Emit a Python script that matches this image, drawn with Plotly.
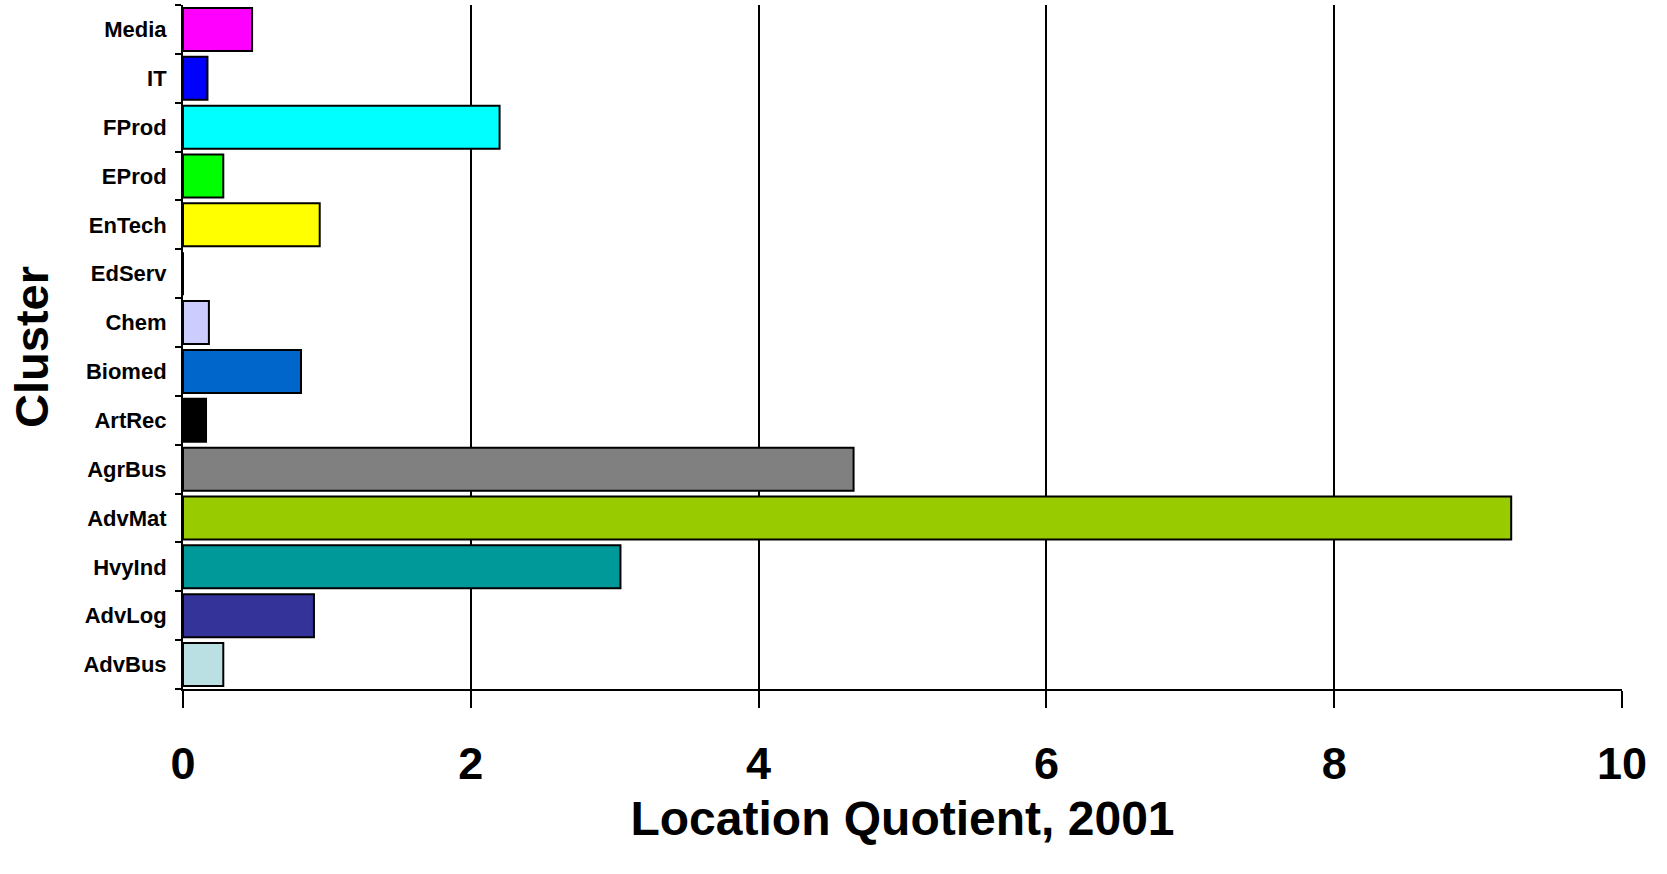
import plotly.graph_objects as go

clusters = ["AdvBus", "AdvLog", "HvyInd", "AdvMat", "AgrBus", "ArtRec", "Biomed",
            "Chem", "EdServ", "EnTech", "EProd", "FProd", "IT", "Media"]
lq_2001 = [0.28, 0.91, 3.04, 9.23, 4.66, 0.16, 0.82,
           0.18, 0.0, 0.95, 0.28, 2.2, 0.17, 0.48]
colors = ["#BBE0E3", "#333399", "#009999", "#99CC00", "#808080", "#000000", "#0066CC",
          "#CCCCFF", "#FFFFFF", "#FFFF00", "#00FF00", "#00FFFF", "#0000FF", "#FF00FF"]
x_ticks = [0, 2, 4, 6, 8, 10]

FONT = "Liberation Sans, Arial, sans-serif"

fig = go.Figure(
    go.Bar(
        x=lq_2001,
        y=clusters,
        orientation="h",
        marker=dict(color=colors, line=dict(color="black", width=2)),
        showlegend=False,
    )
)

fig.update_layout(
    width=1667,
    height=874,
    margin=dict(l=183, r=45, t=5, b=185),
    paper_bgcolor="white",
    plot_bgcolor="white",
    bargap=0.12,
    font=dict(family=FONT, color="black"),
)

fig.update_xaxes(
    range=[0, 10],
    tickvals=x_ticks,
    ticks="outside",
    ticklen=17,
    tickwidth=2,
    tickcolor="black",
    showgrid=True,
    gridcolor="black",
    gridwidth=2,
    showline=True,
    linecolor="black",
    linewidth=2,
    zeroline=False,
    tickfont=dict(size=45, family=FONT, weight="bold"),
    ticklabelstandoff=17,
    title=dict(text="Location Quotient, 2001",
               font=dict(size=48, family=FONT, weight="bold"),
               standoff=13),
)

fig.update_yaxes(
    type="category",
    categoryorder="array",
    categoryarray=clusters,
    range=[-0.5, 13.5],
    ticks="outside",
    tickson="boundaries",
    ticklen=6,
    tickwidth=2,
    tickcolor="black",
    showgrid=False,
    showline=True,
    linecolor="black",
    linewidth=2,
    tickfont=dict(size=22, family=FONT, weight="bold"),
    ticklabelstandoff=10,
    title=dict(text="Cluster",
               font=dict(size=47, family=FONT, weight="bold"),
               standoff=20),
)

fig.write_html("out.html", config={"displayModeBar": False},
               post_script="document.body.style.margin='0px';")
